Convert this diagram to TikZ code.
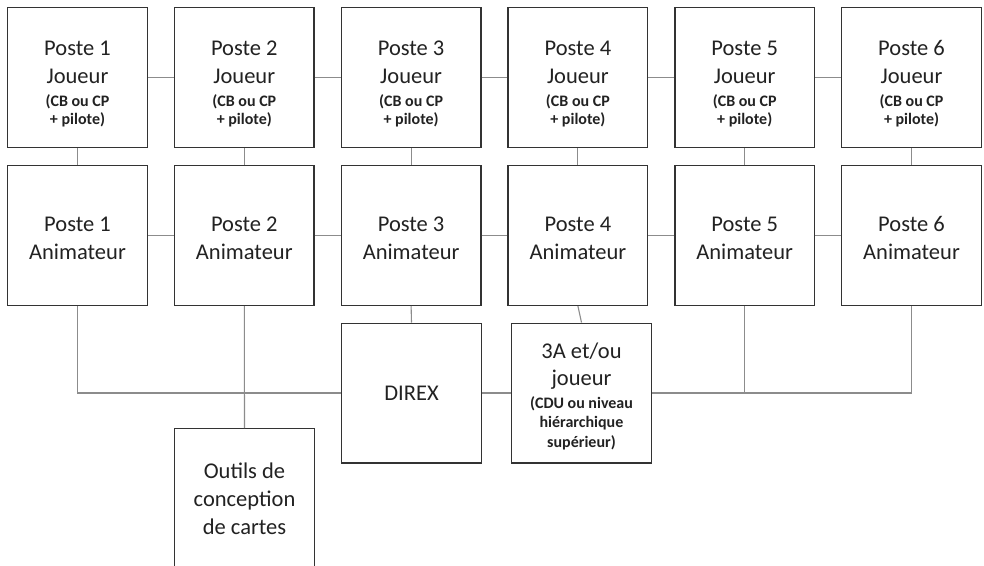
\documentclass[tikz,border=0pt]{standalone}
\usepackage{fontspec}
\setmainfont{Carlito}
\newcommand\mainf{\fontsize{22.5}{28}\selectfont}
\newcommand\smallb{\fontsize{16}{18.4}\selectfont\bfseries}
\definecolor{boxc}{HTML}{333333}
\definecolor{linec}{HTML}{8C8C8C}
\definecolor{txt}{HTML}{222222}
\begin{document}
\begin{tikzpicture}[x=1pt,y=-1pt,
  box/.style={draw=boxc, line width=1.4pt, minimum width=139.6pt, minimum height=139.6pt,
    inner sep=0pt, align=center, font=\mainf, text=txt},
  conn/.style={draw=linec, line width=1.1pt}]
\useasboundingbox[fill=white] (0,0) rectangle (984,565);
\begin{scope}
\clip (0,0) rectangle (984,565);
% row 1
\foreach \i in {1,...,6}{
  \node[box] (j\i) at ({77.5+166.8*(\i-1)},77.5) {\rule{0pt}{27pt}Poste \i\\Joueur\\[-5pt]{\smallb (CB ou CP}\\[-9.6pt]{\smallb + pilote)}};
  \node[box] (a\i) at ({77.5+166.8*(\i-1)},235.5) {\rule{0pt}{20pt}Poste \i\\Animateur};
}
\node[box] (direx) at (411.5,393) {DIREX};
\node[box] (tra) at (581.5,393) {\rule{0pt}{22pt}3A et/ou\\[-1pt]joueur\\[-4.5pt]{\smallb (CDU ou niveau}\\[-9.6pt]{\smallb hiérarchique}\\[-8pt]{\smallb supérieur)}};
\node[box] (outils) at (244.5,498.5) {Outils de\\conception\\de cartes};
\end{scope}
% connectors
\foreach \i [evaluate=\i as \k using int(\i+1)] in {1,...,5}{
  \draw[conn] (j\i.east) -- (j\k.west);
  \draw[conn] (a\i.east) -- (a\k.west);
}
\foreach \i in {1,...,6}{
  \draw[conn] (j\i.south) -- (a\i.north);
}
\draw[conn] (a3.south) -- (direx.north);
\draw[conn] (a4.south) -- (tra.north);
\draw[conn] (a1.south) |- (direx.west);
\draw[conn] (a2.south) -- (outils.north);
\draw[conn] (direx.east) -- (tra.west);
\draw[conn] (a6.south) |- (tra.east);
\coordinate (m5) at (a5.south |- tra.east);
\draw[conn] (a5.south) -- (m5);
\end{tikzpicture}
\end{document}
